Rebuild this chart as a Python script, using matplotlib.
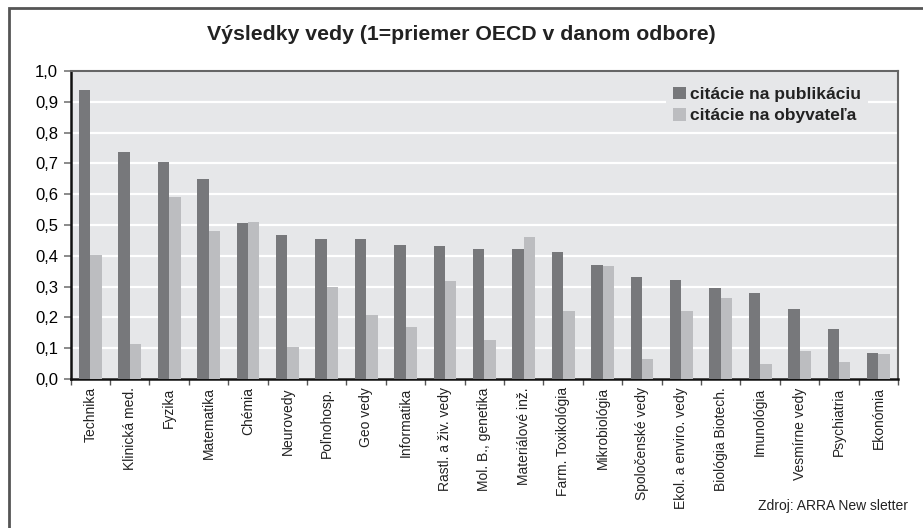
import numpy as np
import matplotlib
matplotlib.use('Agg')
import matplotlib.pyplot as plt
from matplotlib.patches import Rectangle
from matplotlib.ticker import FuncFormatter

plt.rcParams['font.family'] = ['Liberation Sans', 'DejaVu Sans']

# ---- data ----
odbory = ['Technika', 'Klinická med.', 'Fyzika', 'Matematika', 'Chémia',
          'Neurovedy', 'Poľnohosp.', 'Geo vedy', 'Informatika',
          'Rastl. a živ. vedy', 'Mol. B., genetika', 'Materiálové inž.',
          'Farm. Toxikológia', 'Mikrobiológia', 'Spoločenské vedy',
          'Ekol. a enviro. vedy', 'Biológia Biotech.', 'Imunológia',
          'Vesmírne vedy', 'Psychiatria', 'Ekonómia']
na_publikaciu = [0.937, 0.737, 0.704, 0.649, 0.506, 0.468, 0.455, 0.455,
                 0.435, 0.432, 0.422, 0.422, 0.413, 0.370, 0.332, 0.322,
                 0.296, 0.280, 0.228, 0.163, 0.085]
na_obyvatela = [0.403, 0.114, 0.591, 0.481, 0.510, 0.105, 0.299, 0.208,
                0.170, 0.319, 0.127, 0.461, 0.221, 0.367, 0.066, 0.221,
                0.263, 0.050, 0.092, 0.056, 0.082]
y_ticks = [0.0, 0.1, 0.2, 0.3, 0.4, 0.5, 0.6, 0.7, 0.8, 0.9, 1.0]

# ---- figure ----
fig = plt.figure(figsize=(9.23, 5.28), dpi=100)
fig.patch.set_facecolor('white')
ax = fig.add_axes([0.0766, 0.2822, 0.8964, 0.5833])
ax.set_facecolor('#e6e7e9')

x = np.arange(len(odbory))
w = 0.29
ax.bar(x - w / 2, na_publikaciu, w, color='#77787b', label='citácie na publikáciu', zorder=3)
ax.bar(x + w / 2, na_obyvatela, w, color='#bcbdc0', label='citácie na obyvateľa', zorder=3)

ax.set_xlim(-0.5, len(odbory) - 0.5)
ax.set_ylim(0, 1.0)
ax.set_yticks(y_ticks)
ax.yaxis.set_major_formatter(FuncFormatter(lambda v, p: ('%.1f' % v).replace('.', ',')))
ax.grid(axis='y', color='white', linewidth=1.6, zorder=1)
ax.set_axisbelow(True)

# category labels at centres, tick marks at boundaries
ax.set_xticks(x)
ax.set_xticklabels(odbory, rotation=90, fontsize=10, color='#222222')
ax.tick_params(axis='x', which='major', length=0, pad=6)
ax.set_xticks(np.arange(-0.5, len(odbory), 1), minor=True)
ax.tick_params(axis='x', which='minor', length=4, width=1, color='#555555', direction='out')
ax.tick_params(axis='y', length=5, width=1.2, color='#777777', labelsize=12, pad=4)

for s in ['top', 'right']:
    ax.spines[s].set_color('#666666')
    ax.spines[s].set_linewidth(1.5)
for s in ['left', 'bottom']:
    ax.spines[s].set_color('#111111')
    ax.spines[s].set_linewidth(1.8)

leg = ax.legend(loc='upper left', bbox_to_anchor=(0.719, 0.972), frameon=True,
                handlelength=0.75, handleheight=0.75, handletextpad=0.25,
                labelspacing=0.35, borderpad=0.4, borderaxespad=0.0,
                prop={'weight': 'bold', 'size': 12.5})
leg.get_frame().set_facecolor('#e6e7e9')
leg.get_frame().set_edgecolor('none')
leg.get_frame().set_alpha(1)
for t in leg.get_texts():
    t.set_color('#222222')

fig.text(0.5, 0.934, 'Výsledky vedy (1=priemer OECD v danom odbore)',
         ha='center', va='center', fontsize=15.3, fontweight='bold', color='#222222')
fig.text(0.984, 0.041, 'Zdroj: ARRA New sletter', ha='right', va='center',
         fontsize=10, color='#222222', family=['Liberation Sans Narrow', 'Liberation Sans'])

# outer frame (cropped on right and bottom)
fig.add_artist(Rectangle((9 / 923, -0.1), 1.2, 1.1 - 8 / 528, transform=fig.transFigure,
                         fill=False, edgecolor='#555555', linewidth=2))

fig.savefig('out.png', dpi=100)
